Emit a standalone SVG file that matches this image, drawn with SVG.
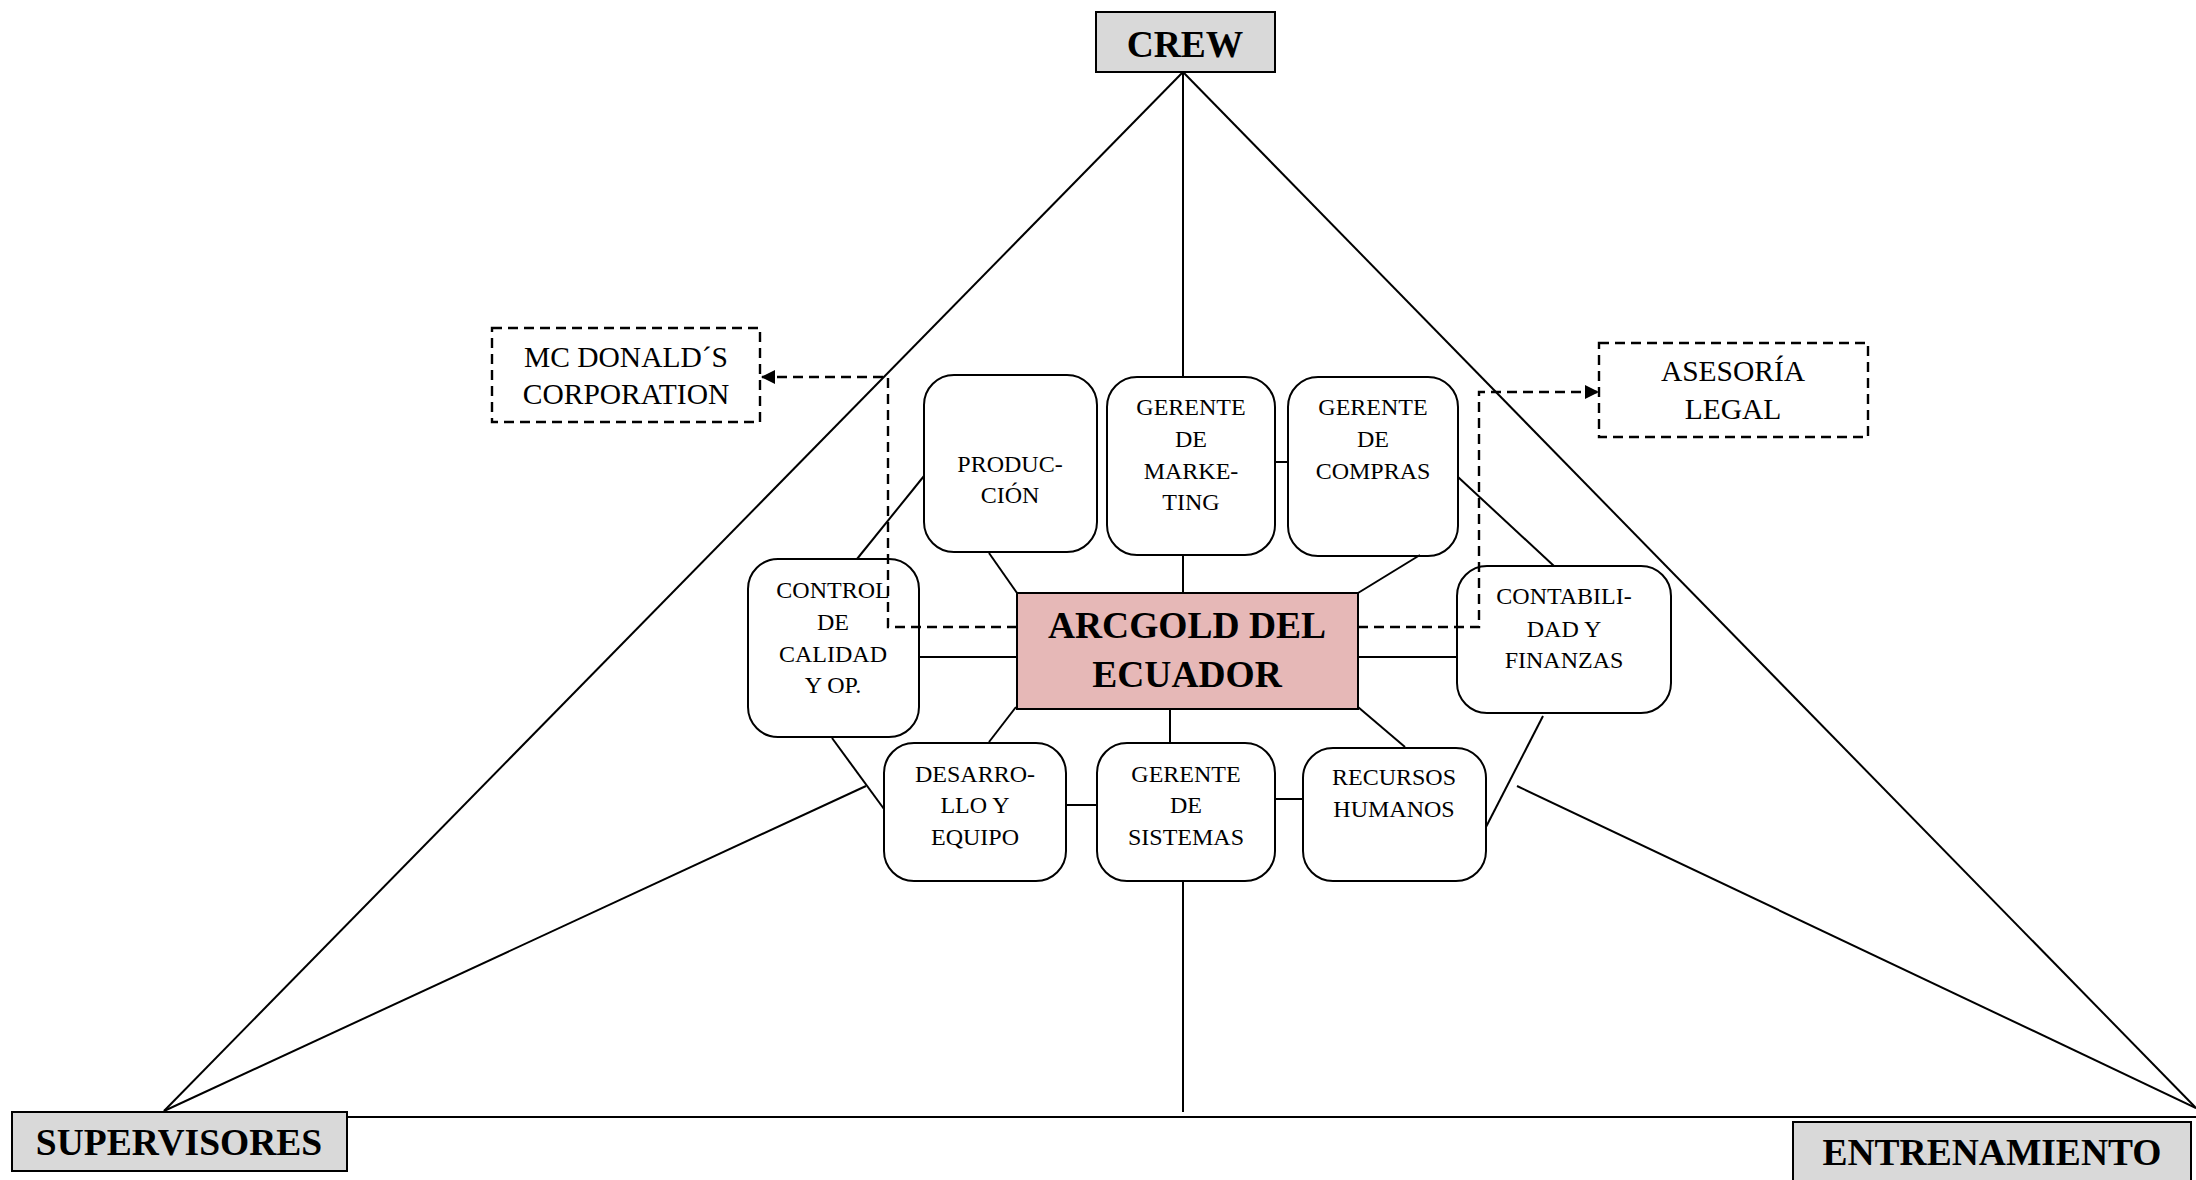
<svg xmlns="http://www.w3.org/2000/svg" width="2196" height="1180" viewBox="0 0 2196 1180">
  <style>
    .bg { fill: #ffffff; }
    .line { stroke: #000; stroke-width: 2; fill: none; }
    .dash { stroke: #000; stroke-width: 2.4; fill: none; stroke-dasharray: 10 6; }
    .gray { fill: #d9d9d9; stroke: #000; stroke-width: 2; }
    .core { fill: #e6b8b7; stroke: #000; stroke-width: 2; }
    .dept { fill: #ffffff; stroke: #000; stroke-width: 2; }
    .ext { fill: #ffffff; stroke: #000; stroke-width: 2.4; stroke-dasharray: 10 6; }
    .big { font-family: "Liberation Serif", "Times New Roman", serif; font-weight: bold; font-size: 37.5px; fill: #000; text-anchor: middle; }
    .lbl { font-family: "Liberation Serif", "Times New Roman", serif; font-size: 24px; fill: #000; text-anchor: middle; }
    .ext-lbl { font-family: "Liberation Serif", "Times New Roman", serif; font-size: 29.5px; fill: #000; text-anchor: middle; }
  </style>
  <defs>
    <marker id="arrow" viewBox="0 0 14 14" refX="13" refY="7" markerWidth="14" markerHeight="14" markerUnits="userSpaceOnUse" orient="auto">
      <path d="M0,0 L14,7 L0,14 Z" fill="#000"/>
    </marker>
  </defs>
  <rect class="bg" x="0" y="0" width="2196" height="1180"/>

  <g id="crew">
    <rect class="gray" x="1096" y="12" width="179" height="60"/>
    <text class="big" x="1185" y="57">CREW</text>
  </g>
  <g id="supervisores">
    <rect class="gray" x="12" y="1112" width="335" height="59"/>
    <text class="big" x="179" y="1155">SUPERVISORES</text>
  </g>
  <g id="entrenamiento">
    <rect class="gray" x="1793" y="1122" width="398" height="70"/>
    <text class="big" x="1992" y="1165">ENTRENAMIENTO</text>
  </g>

  <g id="mcdonalds">
    <rect class="ext" x="492" y="328" width="268" height="94"/>
    <text class="ext-lbl" x="626" y="367">MC DONALD´S</text>
    <text class="ext-lbl" x="626" y="404">CORPORATION</text>
  </g>
  <g id="asesoria">
    <rect class="ext" x="1599" y="343" width="269" height="94"/>
    <text class="ext-lbl" x="1733" y="381">ASESORÍA</text>
    <text class="ext-lbl" x="1733" y="419">LEGAL</text>
  </g>

  <g id="arcgold">
    <rect class="core" x="1017" y="593" width="341" height="116"/>
    <text class="big" x="1187" y="638">ARCGOLD DEL</text>
    <text class="big" x="1187" y="687">ECUADOR</text>
  </g>

  <g id="produccion">
    <rect class="dept" x="924" y="375" width="173" height="177" rx="30"/>
    <text class="lbl" x="1010" y="472">PRODUC-</text>
    <text class="lbl" x="1010" y="503">CIÓN</text>
  </g>
  <g id="marketing">
    <rect class="dept" x="1107" y="377" width="168" height="178" rx="30"/>
    <text class="lbl" x="1191" y="415">GERENTE</text>
    <text class="lbl" x="1191" y="447">DE</text>
    <text class="lbl" x="1191" y="479">MARKE-</text>
    <text class="lbl" x="1191" y="510">TING</text>
  </g>
  <g id="compras">
    <rect class="dept" x="1288" y="377" width="170" height="179" rx="30"/>
    <text class="lbl" x="1373" y="415">GERENTE</text>
    <text class="lbl" x="1373" y="447">DE</text>
    <text class="lbl" x="1373" y="479">COMPRAS</text>
  </g>
  <g id="control-calidad">
    <rect class="dept" x="748" y="559" width="171" height="178" rx="30"/>
    <text class="lbl" x="833" y="598">CONTROL</text>
    <text class="lbl" x="833" y="630">DE</text>
    <text class="lbl" x="833" y="662">CALIDAD</text>
    <text class="lbl" x="833" y="693">Y OP.</text>
  </g>
  <g id="contabilidad">
    <rect class="dept" x="1457" y="566" width="214" height="147" rx="30"/>
    <text class="lbl" x="1564" y="604">CONTABILI-</text>
    <text class="lbl" x="1564" y="637">DAD Y</text>
    <text class="lbl" x="1564" y="668">FINANZAS</text>
  </g>
  <g id="desarrollo">
    <rect class="dept" x="884" y="743" width="182" height="138" rx="30"/>
    <text class="lbl" x="975" y="782">DESARRO-</text>
    <text class="lbl" x="975" y="813">LLO Y</text>
    <text class="lbl" x="975" y="845">EQUIPO</text>
  </g>
  <g id="sistemas">
    <rect class="dept" x="1097" y="743" width="178" height="138" rx="30"/>
    <text class="lbl" x="1186" y="782">GERENTE</text>
    <text class="lbl" x="1186" y="813">DE</text>
    <text class="lbl" x="1186" y="845">SISTEMAS</text>
  </g>
  <g id="recursos-humanos">
    <rect class="dept" x="1303" y="748" width="183" height="133" rx="30"/>
    <text class="lbl" x="1394" y="785">RECURSOS</text>
    <text class="lbl" x="1394" y="817">HUMANOS</text>
  </g>

  <!-- connectors, drawn last so the dashed links run over the department boxes -->
  <g id="connectors">
    <!-- outer triangle -->
    <line class="line" x1="1183" y1="72" x2="164" y2="1111"/>
    <line class="line" x1="1183" y1="72" x2="2196" y2="1108"/>
    <line class="line" x1="347" y1="1117" x2="2196" y2="1117"/>
    <line class="line" x1="1183" y1="72" x2="1183" y2="377"/>
    <line class="line" x1="1183" y1="881" x2="1183" y2="1112"/>
    <line class="line" x1="164" y1="1111" x2="866" y2="786"/>
    <line class="line" x1="2196" y1="1108" x2="1517" y2="786"/>
    <!-- ring around the departments -->
    <line class="line" x1="857" y1="559" x2="924" y2="476"/>
    <line class="line" x1="1275" y1="462" x2="1288" y2="462"/>
    <line class="line" x1="1458" y1="477" x2="1554" y2="566"/>
    <line class="line" x1="832" y1="738" x2="884" y2="809"/>
    <line class="line" x1="1066" y1="805" x2="1097" y2="805"/>
    <line class="line" x1="1275" y1="799" x2="1303" y2="799"/>
    <line class="line" x1="1486" y1="827" x2="1543" y2="716"/>
    <!-- spokes to the centre -->
    <line class="line" x1="989" y1="553" x2="1017" y2="593"/>
    <line class="line" x1="1183" y1="555" x2="1183" y2="593"/>
    <line class="line" x1="1420" y1="555" x2="1358" y2="593"/>
    <line class="line" x1="919" y1="657" x2="1017" y2="657"/>
    <line class="line" x1="1358" y1="657" x2="1457" y2="657"/>
    <line class="line" x1="1016" y1="707" x2="989" y2="742"/>
    <line class="line" x1="1170" y1="709" x2="1170" y2="743"/>
    <line class="line" x1="1358" y1="707" x2="1405" y2="747"/>
    <!-- external advisers -->
    <polyline class="dash" points="1017,627 888,627 888,377 762,377" marker-end="url(#arrow)"/>
    <polyline class="dash" points="1358,627 1479,627 1479,392 1598,392" marker-end="url(#arrow)"/>
  </g>
</svg>
